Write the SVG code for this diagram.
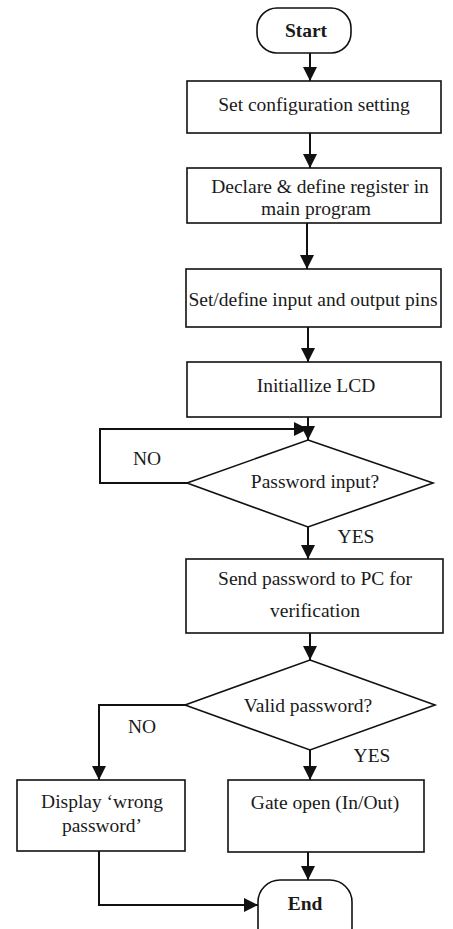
<svg xmlns="http://www.w3.org/2000/svg" width="453" height="929" viewBox="0 0 453 929">
<style>
.box{fill:#fff;stroke:#111;stroke-width:1.6}
.t{font-family:"Liberation Serif","Times New Roman",serif;font-size:19.5px;fill:#1a1a1a;text-anchor:middle}
.b{font-weight:bold}
.c{fill:none;stroke:#111;stroke-width:2}
</style>
<defs>
<marker id="ah" markerUnits="userSpaceOnUse" markerWidth="14" markerHeight="16" refX="14" refY="7" orient="auto">
<path d="M0,0 L14,7 L0,14 Z" fill="#111"/>
</marker>
</defs>
<rect width="453" height="929" fill="#fff"/>
<g id="start"><rect class="box" x="257" y="8" width="94" height="45" rx="20"/><text class="t b" x="306" y="37">Start</text></g>
<g id="config"><rect class="box" x="187" y="81" width="254" height="52"/><text class="t" x="314" y="111">Set configuration setting</text></g>
<g id="declare"><rect class="box" x="187" y="168" width="254" height="55"/><text class="t" x="320" y="193">Declare &amp; define register  in</text><text class="t" x="316" y="215">main program</text></g>
<g id="pins"><rect class="box" x="186" y="269" width="255" height="58"/><text class="t" x="313" y="306">Set/define input and output pins</text></g>
<g id="lcd"><rect class="box" x="187" y="362" width="254" height="55"/><text class="t" x="316" y="392">Initiallize LCD</text></g>
<g id="pwinput"><polygon class="box" points="308,440 433,483 308,527 187,483"/><text class="t" x="315" y="488">Password input?</text></g>
<g id="send"><rect class="box" x="186" y="559" width="257" height="74"/><text class="t" x="315" y="585">Send password to PC for</text><text class="t" x="315" y="617">verification</text></g>
<g id="valid"><polygon class="box" points="310,660 435,705 310,750 185,705"/><text class="t" x="308" y="712">Valid password?</text></g>
<g id="wrong"><rect class="box" x="17" y="780" width="168" height="71"/><text class="t" x="102" y="808">Display ‘wrong</text><text class="t" x="102" y="832">password’</text></g>
<g id="gate"><rect class="box" x="228" y="780" width="196" height="72"/><text class="t" x="325" y="809">Gate open (In/Out)</text></g>
<g id="end"><rect class="box" x="258" y="880" width="94" height="70" rx="22"/><text class="t b" x="305" y="910">End</text></g>
<g id="connectors">
<line class="c" x1="310" y1="53" x2="310" y2="81" marker-end="url(#ah)"/>
<line class="c" x1="310" y1="133" x2="310" y2="168" marker-end="url(#ah)"/>
<line class="c" x1="307" y1="223" x2="307" y2="269" marker-end="url(#ah)"/>
<line class="c" x1="308" y1="327" x2="308" y2="362" marker-end="url(#ah)"/>
<line class="c" x1="308" y1="417" x2="308" y2="440" marker-end="url(#ah)"/>
<polyline class="c" points="187,483 100,483 100,429 308,429" marker-end="url(#ah)"/>
<line class="c" x1="308" y1="527" x2="308" y2="559" marker-end="url(#ah)"/>
<line class="c" x1="310" y1="633" x2="310" y2="660" marker-end="url(#ah)"/>
<polyline class="c" points="185,705 99,705 99,780" marker-end="url(#ah)"/>
<line class="c" x1="310" y1="750" x2="310" y2="780" marker-end="url(#ah)"/>
<line class="c" x1="308" y1="852" x2="308" y2="880" marker-end="url(#ah)"/>
<polyline class="c" points="99,851 99,905 258,905" marker-end="url(#ah)"/>
</g>
<g id="labels">
<text class="t" x="147" y="465">NO</text>
<text class="t" x="356" y="543">YES</text>
<text class="t" x="142" y="733">NO</text>
<text class="t" x="372" y="762">YES</text>
</g>
</svg>
